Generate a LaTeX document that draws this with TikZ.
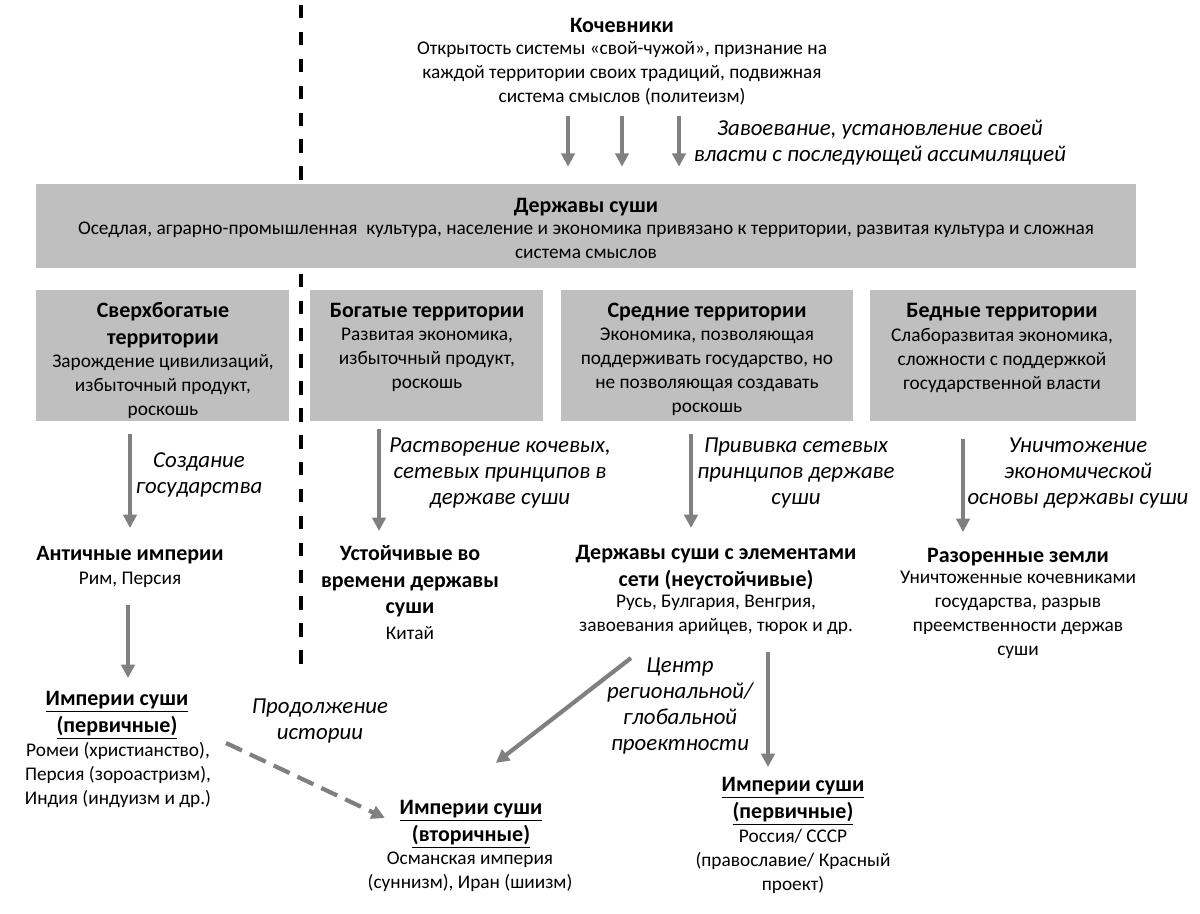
\documentclass[tikz,border=0pt]{standalone}
\usepackage{fontspec}
\setmainfont{Carlito}
\usepackage{tikz}
\usetikzlibrary{arrows.meta}
\definecolor{boxgray}{HTML}{BFBFBF}
\definecolor{arrgray}{HTML}{808080}
\tikzset{
  panel/.style = {fill = boxgray, inner sep = 0, minimum height = 2.62cm},
  head/.style = {font = \fontsize{12.5}{15.2}\selectfont\bfseries, align = center, inner sep = 0, anchor = north, execute at begin node = \strut},
  body/.style = {font = \fontsize{11}{13.6}\selectfont, align = center, inner sep = 0, anchor = north, execute at begin node = \strut},
  note/.style = {font = \fontsize{13}{14.8}\selectfont\itshape, align = center, inner sep = 0, anchor = north, execute at begin node = \strut},
  arr/.style = {draw = arrgray, line width = 2.4pt, -{Triangle[width = 7.6pt, length = 7.6pt]}},
  darr/.style = {arr, dash pattern = on 10pt off 5pt}
}
\begin{document}
\begin{tikzpicture}[x = 0.02cm, y = -0.02cm]
  \useasboundingbox (0, 0) rectangle (1200, 913);
  \draw[line width = 2.5pt, dash pattern = on 7.65pt off 7.65pt] (301, 5) -- (301, 666);
  % nomads
  \node[head] (nomadT) at (622, 13) {Кочевники};
  \node[body] (nomadB) at (622, 41) {Открытость системы «свой-чужой», признание на\\каждой территории своих традиций, подвижная\\система смыслов (политеизм)};
  \node[note] (conqL) at (880, 120) {Завоевание, установление своей\\власти с последующей ассимиляцией};
  % land powers
  \node[panel, minimum width = 22cm, minimum height = 1.68cm] (dz) at (586, 226) {};
  \node[head] (dzT) at (586, 193) {Державы суши};
  \node[body] (dzB) at (586, 222) {Оседлая, аграрно-промышленная\ \ культура, население и экономика привязано к территории, развитая культура и сложная\\система смыслов};
  \foreach \x in {568, 622, 679}
    \draw[arr, shorten <= 0.12cm, shorten >= 0.34cm] (nomadB.south -| \x, 0) -- (dz.north -| \x, 0);
  % territories
  \node[panel, minimum width = 5.06cm] (b1) at (162.5, 355.5) {};
  \node[panel, minimum width = 4.66cm] (b2) at (426.5, 355.5) {};
  \node[panel, minimum width = 5.84cm] (b3) at (707, 355.5) {};
  \node[panel, minimum width = 5.32cm] (b4) at (1003, 355.5) {};
  \node[head] (b1T) at (163, 302) {Сверхбогатые\\территории};
  \node[body] (b1B) at (163, 354) {Зарождение цивилизаций,\\избыточный продукт,\\роскошь};
  \node[head] (b2T) at (427, 298) {Богатые территории};
  \node[body] (b2B) at (427, 328) {Развитая экономика,\\избыточный продукт,\\роскошь};
  \node[head] (b3T) at (707, 298) {Средние территории};
  \node[body] (b3B) at (707, 328) {Экономика, позволяющая\\поддерживать государство, но\\не позволяющая создавать\\роскошь};
  \node[head] (b4T) at (1002, 298) {Бедные территории};
  \node[body] (b4B) at (1002, 328) {Слаборазвитая экономика,\\сложности с поддержкой\\государственной власти};
  % second row
  \node[head] (antT) at (130, 541) {Античные империи};
  \node[body] (antB) at (130, 567) {Рим, Персия};
  \node[head] (ustT) at (410, 545) {Устойчивые во\\времени державы\\суши};
  \node[body] (ustB) at (410, 622) {Китай};
  \node[head] (dsT) at (716, 545) {Державы суши с элементами\\сети (неустойчивые)};
  \node[body] (dsB) at (716, 595) {Русь, Булгария, Венгрия,\\завоевания арийцев, тюрок и др.};
  \node[head] (ruinT) at (1018, 543) {Разоренные земли};
  \node[body] (ruinB) at (1018, 571) {Уничтоженные кочевниками\\государства, разрыв\\преемственности держав\\суши};
  \node[note] (l1) at (199, 452) {Создание\\государства};
  \node[note] (l2) at (500, 437) {Растворение кочевых,\\сетевых принципов в\\державе суши};
  \node[note] (l3) at (796, 437) {Прививка сетевых\\принципов державе\\суши};
  \node[note] (l4) at (1078, 437) {Уничтожение\\экономической\\основы державы суши};
  \draw[arr, shorten <= 0.26cm, shorten >= 0.26cm] (b1.south -| antT.north) -- (antT.north);
  \draw[arr, shorten <= 0.16cm, shorten >= 0.28cm] (b2.south -| 379, 0) -- (ustT.north -| 379, 0);
  \draw[arr, shorten <= 0.26cm, shorten >= 0.34cm] (b3.south -| 691, 0) -- (dsT.north -| 691, 0);
  \draw[arr, shorten <= 0.36cm, shorten >= 0.22cm] (b4.south -| 963, 0) -- (ruinT.north -| 963, 0);
  % empires
  \node[head] (emp1T) at (117, 691) {\underline{Империи суши}\\\underline{(первичные)}};
  \node[body] (emp1B) at (118, 742) {Ромеи (христианство),\\Персия (зороастризм),\\Индия (индуизм и др.)};
  \node[note] (histL) at (320, 698) {Продолжение\\истории};
  \node[head] (emp2T) at (471, 800) {\underline{Империи суши}\\\underline{(вторичные)}};
  \node[body] (emp2B) at (470, 852) {Османская империя\\(суннизм), Иран (шиизм)};
  \node[note] (centL) at (680, 657) {Центр\\региональной/\\глобальной\\проектности};
  \node[head] (emp3T) at (793, 777) {\underline{Империи суши}\\\underline{(первичные)}};
  \node[body] (emp3B) at (793, 829) {Россия/ СССР\\(православие/ Красный\\проект)};
  \coordinate (d1) at (226, 743);
  \coordinate (c1) at (631, 658);
  \draw[arr, shorten <= 0.26cm, shorten >= 0.26cm] (antB.south -| 128, 0) -- (emp1T.north -| 128, 0);
  \draw[darr, shorten >= 0.32cm] (d1) -- (emp2T.west);
  \draw[arr, shorten >= 1.21cm] (c1) -- ([xshift = -0.46cm]emp2T.north);
  \draw[arr, shorten <= 0.26cm, shorten >= 0.2cm] (dsB.south -| 768, 0) -- (emp3T.north -| 768, 0);
\end{tikzpicture}
\end{document}
